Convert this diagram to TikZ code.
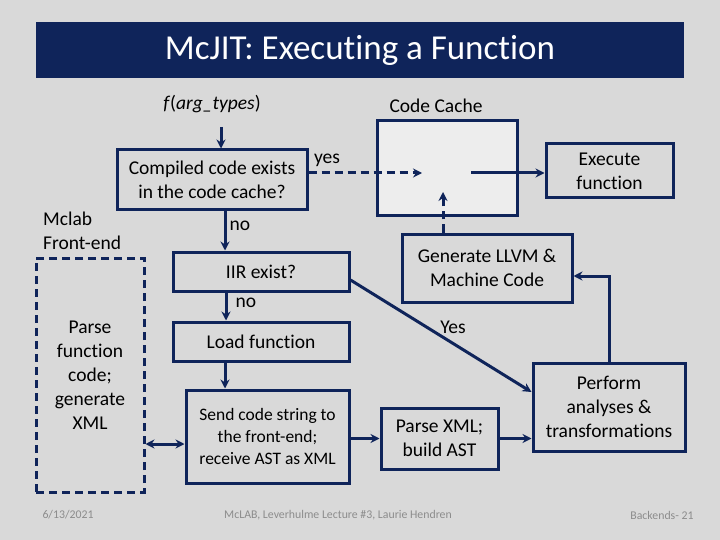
\documentclass[tikz,border=0pt]{standalone}
\usepackage{fontspec}
\setmainfont{Carlito}[Ligatures=NoCommon]
\usetikzlibrary{arrows.meta}
\definecolor{navy}{HTML}{0F245A}
\definecolor{bg}{HTML}{D9D9D9}
\definecolor{cachefill}{HTML}{EDEDED}
\definecolor{foot}{HTML}{8C8C8C}
\tikzset{
  box/.style={draw=navy, line width=3pt, align=center, inner sep=0pt, font=\fontsize{19.5}{24}\selectfont},
  arr/.style={draw=navy, line width=3pt, -{Stealth[length=9pt,width=9pt]}},
  dash arr/.style={arr, dash pattern=on 8pt off 5pt},
  lbl/.style={font=\fontsize{19.5}{24}\selectfont, inner sep=0pt},
  footer/.style={font=\fontsize{11.8}{13}\selectfont, text=foot, inner sep=0pt}
}
\begin{document}
\begin{tikzpicture}[x=1pt,y=-1pt]
\fill[bg] (0,0) rectangle (720,540);
\useasboundingbox (0,0) rectangle (720,540);
\fill[navy] (36,22) rectangle (684,78);
\node[text=white, font=\fontsize{35}{40}\selectfont, inner sep=0pt] (title) at (360,50) {McJIT: Executing a Function};

\node[lbl] (f) at (212,104) {\textit{f}(\textit{arg\_types})};
\node[lbl] (cclbl) at (436,106) {Code Cache};

\node[box, minimum width=190pt, minimum height=60pt] (cmp) at (212,180) {Compiled code exists\\in the code cache?};
\node[box, fill=cachefill, minimum width=140pt, minimum height=95pt] (cache) at (447,168.5) {};
\node[box, minimum width=127pt, minimum height=54pt] (exe) at (609.5,171) {Execute\\function};
\node[box, minimum width=170pt, minimum height=68pt] (gen) at (487,268) {Generate LLVM \&\\Machine Code};
\node[box, minimum width=176pt, minimum height=39pt] (iir) at (261,271.5) {IIR exist?};
\node[box, minimum width=176pt, minimum height=39pt] (load) at (261,341.5) {Load function};
\node[box, minimum width=163pt, minimum height=93pt, font=\fontsize{17.5}{22}\selectfont] (send) at (267.5,436.5) {Send code string to\\the front-end;\\receive AST as XML};
\node[box, dash pattern=on 8pt off 5pt, minimum width=108pt, minimum height=234pt] (fe) at (90,375) {};
\node[lbl, align=center] (fetext) at (90,375) {Parse\\function\\code;\\generate\\XML};
\node[box, minimum width=117pt, minimum height=61pt] (pxml) at (439.5,438.5) {Parse XML;\\build AST};
\node[box, minimum width=152pt, minimum height=88pt] (perf) at (609,407) {Perform\\analyses \&\\transformations};

\node[lbl, align=left, anchor=west] (mclab) at (43,231) {Mclab\\Front-end};
\node[lbl] (yes) at (327,160) {yes};
\node[lbl] (no1) at (240,226) {no};
\node[lbl] (no2) at (246,303) {no};
\node[lbl] (yes2) at (453,327) {Yes};

\coordinate (fOut) at (221,127);
\coordinate (cacheIn) at (422,173);
\coordinate (cacheOut) at (471,173);
\coordinate (cacheUp) at (443,192);

\draw[arr] (fOut) -- (fOut |- cmp.north);
\draw[dash arr] ([yshift=7pt]cmp.east) -- (cacheIn);
\draw[arr] (cacheOut) -- (exe.west |- cacheOut);
\draw[dash arr] (gen.north -| cacheUp) -- (cacheUp);
\draw[arr] ([xshift=13pt]cmp.south) -- ([xshift=13pt]cmp.south |- iir.north);
\draw[arr] ([xshift=-35pt]iir.south) -- ([xshift=-35pt]iir.south |- load.north);
\draw[arr] ([xshift=-36pt]load.south) -- ([xshift=-36pt]load.south |- send.north);
\draw[arr] ([yshift=-8.5pt]iir.east) -- ([yshift=15pt]perf.west);
\draw[draw=navy, line width=3pt, {Stealth[length=9pt,width=9pt]}-{Stealth[length=9pt,width=9pt]}] (fe.east |- 0,444) -- (send.west |- 0,444);
\draw[arr] (send.east |- pxml.west) -- (pxml.west);
\draw[arr] (pxml.east) -- (perf.west |- pxml.east);
\draw[arr] (perf.north) |- ([yshift=-8pt]gen.east);

\node[footer] (date) at (68,515) {6/13/2021};
\node[footer] (mid) at (338,515) {McLAB, Leverhulme Lecture \#3, Laurie Hendren};
\node[footer] (pg) at (662,515) {Backends- 21};
\end{tikzpicture}
\end{document}
